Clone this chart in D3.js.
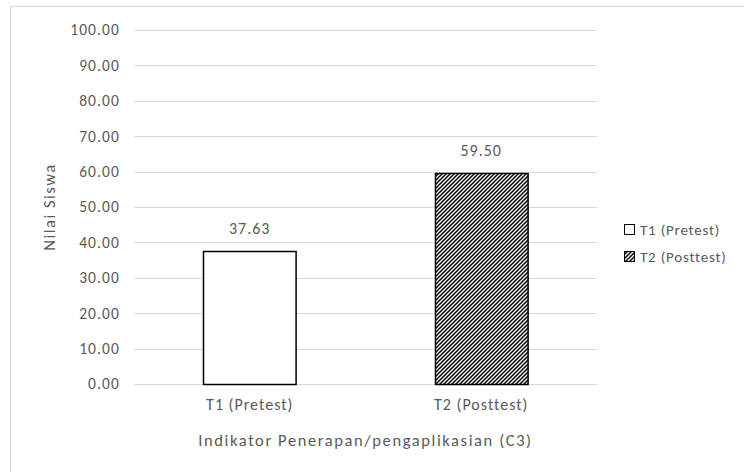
<!DOCTYPE html>
<html>
<head>
<meta charset="utf-8">
<script src="https://cdn.jsdelivr.net/npm/d3@7"></script>
<style>
  html, body { margin: 0; padding: 0; background: #fff; }
  svg text { font-family: Calibri, Carlito, "Open Sans", "Noto Sans", sans-serif; fill: #595959; }
</style>
</head>
<body>
<svg id="chart" width="744" height="472"></svg>
<script>
// Data
const categories = ["T1 (Pretest)", "T2 (Posttest)"];
const values = [37.63, 59.50];
const yTicks = [0, 10, 20, 30, 40, 50, 60, 70, 80, 90, 100];
const xTitle = "Indikator Penerapan/pengaplikasian (C3)";
const yTitle = "Nilai Siswa";

const svg = d3.select("#chart");
const W = 744, H = 472;
const FONT = "Calibri, Carlito, 'Open Sans', 'Noto Sans', sans-serif";

// Chart frame
svg.append("rect")
  .attr("x", 10.5).attr("y", 6.5)
  .attr("width", W - 10).attr("height", H)
  .attr("fill", "#fff").attr("stroke", "#d9d9d9");

// Hatch pattern (upward diagonal)
const defs = svg.append("defs");
const pat = defs.append("pattern")
  .attr("id", "hatch")
  .attr("patternUnits", "userSpaceOnUse")
  .attr("width", 4).attr("height", 4);
pat.append("rect").attr("width", 4).attr("height", 4).attr("fill", "#fff");
pat.append("path")
  .attr("d", "M-1,1 l2,-2 M0,4 l4,-4 M3,5 l2,-2")
  .attr("stroke", "#000").attr("stroke-width", 1.5);

const plot = { left: 134, right: 597, top: 30, bottom: 384 };

const x = d3.scaleBand()
  .domain(categories)
  .range([plot.left, plot.right])
  .paddingInner(0.6)
  .paddingOuter(0.3);

const y = d3.scaleLinear()
  .domain([0, 100])
  .range([plot.bottom, plot.top]);

// Gridlines
svg.append("g")
  .selectAll("line")
  .data(yTicks)
  .join("line")
  .attr("x1", plot.left).attr("x2", plot.right)
  .attr("y1", d => Math.round(y(d)) + 0.5)
  .attr("y2", d => Math.round(y(d)) + 0.5)
  .attr("stroke", "#d9d9d9").attr("stroke-width", 1);

// Y axis labels
const yAxis = d3.axisLeft(y).tickValues(yTicks).tickFormat(d3.format(".2f")).tickSize(0).tickPadding(14);
const gy = svg.append("g").attr("transform", `translate(${plot.left},0)`).call(yAxis);
gy.select(".domain").remove();
gy.selectAll("text")
  .attr("font-size", 15.5)
  .style("letter-spacing", "1.1px")
  .style("fill", "#595959")
  .style("font-family", FONT);

// X axis labels
const xAxis = d3.axisBottom(x).tickSize(0).tickPadding(15);
const gx = svg.append("g").attr("transform", `translate(0,${plot.bottom})`).call(xAxis);
gx.select(".domain").remove();
gx.selectAll("text")
  .attr("font-size", 16)
  .style("letter-spacing", "1px")
  .style("fill", "#595959")
  .style("font-family", FONT);

// Bars
const fills = ["#fff", "url(#hatch)"];
svg.append("g")
  .selectAll("rect")
  .data(values)
  .join("rect")
  .attr("x", (d, i) => Math.round(x(categories[i])) + 0.5)
  .attr("y", d => Math.round(y(d)) + 0.5)
  .attr("width", x.bandwidth())
  .attr("height", d => Math.round(y(0)) - Math.round(y(d)))
  .attr("fill", (d, i) => fills[i])
  .attr("stroke", "#000").attr("stroke-width", 1.5);

// Value labels
svg.append("g")
  .selectAll("text")
  .data(values)
  .join("text")
  .attr("x", (d, i) => x(categories[i]) + x.bandwidth() / 2)
  .attr("y", d => y(d) - 17)
  .attr("text-anchor", "middle")
  .attr("font-size", 16)
  .style("letter-spacing", "1px")
  .text(d => d.toFixed(2));

// Axis titles
svg.append("text")
  .attr("x", (plot.left + plot.right) / 2)
  .attr("y", 446)
  .attr("text-anchor", "middle")
  .attr("font-size", 16.5)
  .style("letter-spacing", "1.6px")
  .text(xTitle);

svg.append("text")
  .attr("transform", `translate(55,${(plot.top + plot.bottom) / 2}) rotate(-90)`)
  .attr("text-anchor", "middle")
  .attr("font-size", 16.5)
  .style("letter-spacing", "1.5px")
  .text(yTitle);

// Legend
const legend = svg.append("g").attr("transform", "translate(624,224)");
categories.forEach((c, i) => {
  const g = legend.append("g").attr("transform", `translate(0,${i * 27})`);
  g.append("rect")
    .attr("x", 0.5).attr("y", 0.5).attr("width", 10).attr("height", 10)
    .attr("fill", fills[i]).attr("stroke", "#000").attr("stroke-width", 1);
  g.append("text")
    .attr("x", 16).attr("y", 11)
    .attr("font-size", 15)
    .style("letter-spacing", "0.8px")
    .text(c);
});
</script>
</body>
</html>
